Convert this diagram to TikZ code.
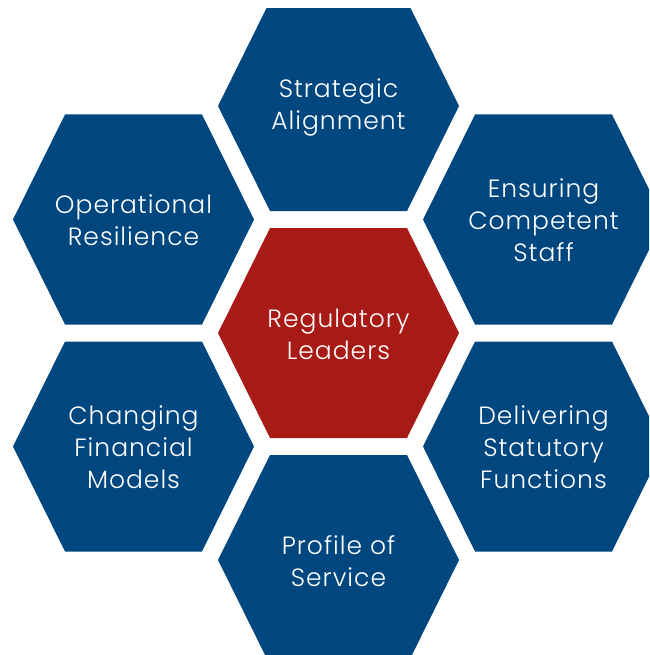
\documentclass[tikz,border=0pt]{standalone}
\usepackage{fontspec}
\setmainfont{Poppins}[UprightFont=* Light, LetterSpace=4]
\usetikzlibrary{positioning}

\definecolor{hexblue}{HTML}{00477F}
\definecolor{hexred}{HTML}{A81A16}

\begin{document}
\begin{tikzpicture}[
		x=1pt, y=-1pt,
		line join=miter,
		hexlab/.style={text=white, align=center, inner sep=0pt,
			font=\fontsize{25}{32}\selectfont}
	]
	
	% Parameters
	\def\hw{120.5} % half width
	\def\hh{105}   % half height
	\def\hi{52}    % inset of top edge
	
	\useasboundingbox (0,0) rectangle (649,655);
	
	\begin{scope}
		\clip (0,9) rectangle (649,655);
		% Hexagons with their labels
		\foreach \name/\cx/\cy/\col/\txt in {
			leaders/338.5/333/hexred/{Regulatory\\Leaders},
			strategic/338.5/106/hexblue/{Strategic\\Alignment},
			operational/133.5/219.5/hexblue/{Operational\\Resilience},
			competent/543.5/219.5/hexblue/{Ensuring\\Competent\\Staff},
			financial/133.5/446.5/hexblue/{Changing\\Financial\\Models},
			statutory/543.5/446.5/hexblue/{Delivering\\Statutory\\Functions},
			profile/338.5/560/hexblue/{Profile of\\Service}} {
			\fill[\col] (\cx-\hw,\cy) -- (\cx-\hw+\hi,\cy-\hh) -- (\cx+\hw-\hi,\cy-\hh)
			-- (\cx+\hw,\cy) -- (\cx+\hw-\hi,\cy+\hh) -- (\cx-\hw+\hi,\cy+\hh) -- cycle;
			\node[hexlab] (\name) at (\cx,\cy+1) {\txt};
		}
	\end{scope}
	
\end{tikzpicture}
\end{document}
